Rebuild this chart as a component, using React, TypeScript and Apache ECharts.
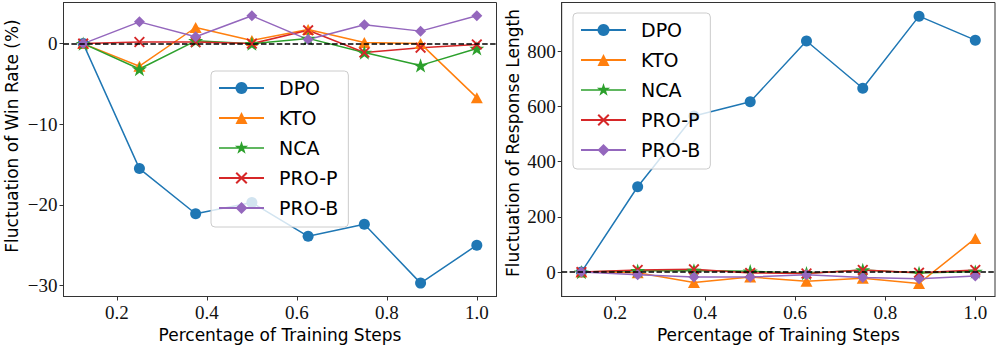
import React, { useEffect, useRef } from 'react';
import * as echarts from 'echarts';

const steps = [0.125, 0.25, 0.375, 0.5, 0.625, 0.75, 0.875, 1.0];
const methods = ['DPO', 'KTO', 'NCA', 'PRO-P', 'PRO-B'];

const winDPO = [0, -15.5, -21.1, -19.7, -23.9, -22.4, -29.7, -25.0];
const winKTO = [0, -2.8, 2.0, 0.4, 1.75, 0.15, 0.0, -6.7];
const winNCA = [0, -3.15, 0.35, 0.0, 0.65, -1.1, -2.7, -0.6];
const winPROP = [0, 0.2, 0.2, 0.0, 1.65, -1.1, -0.5, -0.1];
const winPROB = [0, 2.7, 0.85, 3.45, 0.5, 2.35, 1.55, 3.45];

const lenDPO = [0, 309, 565, 617, 837, 666, 927, 840];
const lenKTO = [0, -2, -38, -18, -33, -22, -41, 122];
const lenNCA = [0, 5, 6, 3, -4, 8, -3, 2];
const lenPROP = [0, 8, 10, -3, -5, 8, -2, 8];
const lenPROB = [0, -10, -18, -18, -10, -20, -24, -14];

const xTicks = [0.2, 0.4, 0.6, 0.8, 1.0];
const winTicks = [-30, -20, -10, 0];
const lenTicks = [0, 200, 400, 600, 800];

const COLORS = ['#1f77b4', '#ff7f0e', '#2ca02c', '#d62728', '#9467bd'];
const STAR = 'path://M0,-1L-0.2245,-0.309L-0.9511,-0.309L-0.3633,0.118L-0.5878,0.809L0,0.382L0.5878,0.809L0.3633,0.118L0.9511,-0.309L0.2245,-0.309Z';
const XMARK = 'path://M0,0.12L0.12,0L0.5,0.38L0.88,0L1,0.12L0.62,0.5L1,0.88L0.88,1L0.5,0.62L0.12,1L0,0.88L0.38,0.5Z';
const SYMBOLS: any[] = ['circle', 'triangle', STAR, XMARK, 'diamond'];
const SIZES: any[] = [11, [12, 11], [15, 14.3], 11, 11];

// legend icon for the star marker: line + star in a 45x15 box
const STAR_LEGEND =
  'path://M22.5,0L22.5,0ZM22.5,15L22.5,15Z' +
  'M0,6.75L0,8.25L45,8.25L45,6.75Z' +
  'M22.5,0.5L20.928,5.337L15.842,5.337L19.957,8.326L18.385,13.163L22.5,10.174L26.615,13.163L25.043,8.326L29.158,5.337L24.072,5.337Z';

const SERIF = '"Liberation Serif", "DejaVu Serif", serif';
const SANS = '"DejaVu Sans", sans-serif';

const fmtNum = (v: number) => (v < 0 ? '\u2212' + Math.abs(v) : String(v));

export default function App() {
  const ref = useRef<HTMLDivElement>(null);
  useEffect(() => {
    document.body.style.margin = '0';
    const chart = echarts.init(ref.current!, null, { renderer: 'svg' });
    const grids = [
      { left: 63.5, top: 2.5, width: 433, height: 294 },
      { left: 561.7, top: 2.5, width: 433.3, height: 294 },
    ];
    const sets = [
      [winDPO, winKTO, winNCA, winPROP, winPROB],
      [lenDPO, lenKTO, lenNCA, lenPROP, lenPROB],
    ];
    const series: any[] = [];
    sets.forEach((vals, gi) => {
      vals.forEach((arr, k) => {
        series.push({
          type: 'line',
          name: methods[k],
          xAxisIndex: gi,
          yAxisIndex: gi,
          data: steps.map((s, i) => [s, arr[i]]),
          symbol: SYMBOLS[k],
          symbolSize: SIZES[k],
          showSymbol: true,
          lineStyle: { color: COLORS[k], width: 1.5 },
          itemStyle: { color: COLORS[k], borderWidth: 0 },
          emphasis: { disabled: true },
          z: 3,
        });
      });
      series.push({
        type: 'line',
        name: 'zero' + gi,
        xAxisIndex: gi,
        yAxisIndex: gi,
        data: [],
        z: 4,
        markLine: {
          silent: true,
          symbol: ['none', 'none'],
          label: { show: false },
          lineStyle: { color: '#000', width: 1.5, type: [5.5, 2.4] },
          data: [{ yAxis: 0 }],
        },
      });
    });
    const axisLine = { show: true, onZero: false, lineStyle: { color: '#333', width: 1 } };
    const xAxis = [0, 1].map((gi) => ({
      type: 'value',
      gridIndex: gi,
      min: 0.08125,
      max: 1.04375,
      axisLine,
      splitLine: { show: false },
      axisTick: { show: true, customValues: xTicks, length: 4, lineStyle: { color: '#333' } },
      axisLabel: {
        customValues: xTicks,
        formatter: (v: number) => v.toFixed(1),
        fontFamily: SERIF,
        fontSize: 19,
        color: '#111',
        margin: 6,
      },
      name: 'Percentage of Training Steps',
      nameLocation: 'middle',
      nameGap: 28,
      nameTextStyle: { fontFamily: SANS, fontSize: 17, color: '#000' },
    }));
    const yAxis = [
      { min: -31.36, max: 5.1, ticks: winTicks },
      { min: -88.4, max: 976.4, ticks: lenTicks },
    ].map((a, gi) => ({
      type: 'value',
      gridIndex: gi,
      min: a.min,
      max: a.max,
      axisLine,
      splitLine: { show: false },
      axisTick: { show: true, customValues: a.ticks, length: 4, lineStyle: { color: '#333' } },
      axisLabel: {
        customValues: a.ticks,
        formatter: fmtNum,
        fontFamily: SERIF,
        fontSize: 19,
        color: '#111',
        margin: 6,
      },
    }));
    const legendData = methods.map((m) => (m === 'NCA' ? { name: m, icon: STAR_LEGEND } : { name: m }));
    const legend = [
      { left: 211, top: 71 },
      { left: 573, top: 13 },
    ].map((p) => ({
      data: legendData,
      orient: 'vertical',
      left: p.left,
      top: p.top,
      itemWidth: 45,
      itemHeight: 15,
      itemGap: 10,
      padding: [7, 10, 9, 7],
      backgroundColor: 'rgba(255,255,255,0.8)',
      borderColor: '#cccccc',
      borderWidth: 1,
      borderRadius: 4,
      selectedMode: false,
      z: 10,
      textStyle: { fontFamily: SANS, fontSize: 19, color: '#000', lineHeight: 20, padding: [0, 0, 0, 10] },
    }));
    chart.setOption({
      animation: false,
      grid: grids.map((g) => ({ ...g, show: true, borderColor: '#333', borderWidth: 1, backgroundColor: 'transparent' })),
      xAxis,
      yAxis,
      legend,
      series,
      graphic: [
        {
          type: 'text',
          x: 12,
          y: 136,
          rotation: Math.PI / 2,
          style: { text: 'Fluctuation of Win Rate (%)', fontFamily: SANS, fontSize: 17, fill: '#000', align: 'center', verticalAlign: 'middle' },
        },
        {
          type: 'text',
          x: 513,
          y: 143,
          rotation: Math.PI / 2,
          style: { text: 'Fluctuation of Response Length', fontFamily: SANS, fontSize: 17, fill: '#000', align: 'center', verticalAlign: 'middle' },
        },
      ],
    });
    return () => chart.dispose();
  }, []);
  return <div ref={ref} style={{ width: 997, height: 349 }} />;
}
